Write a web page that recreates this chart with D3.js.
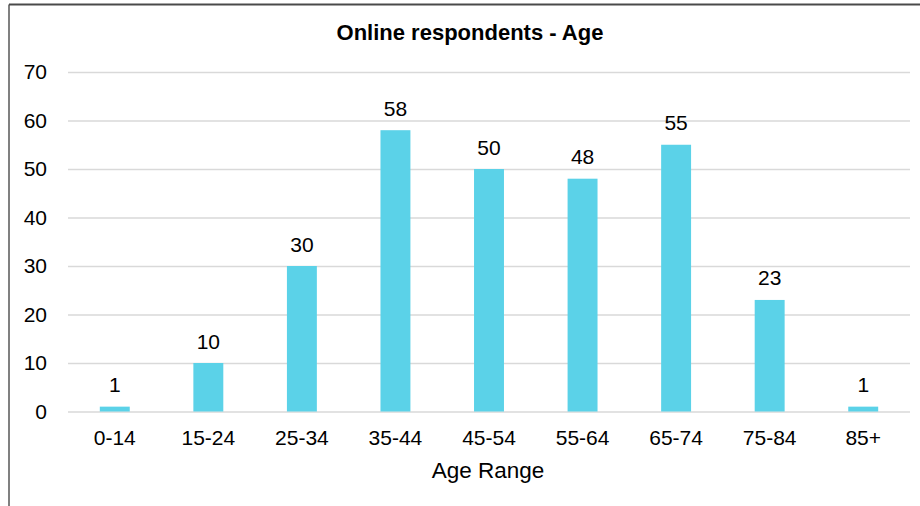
<!DOCTYPE html>
<html>
<head>
<meta charset="utf-8">
<script src="https://cdn.jsdelivr.net/npm/d3@7"></script>
<style>
  html, body { margin: 0; padding: 0; background: #fff; }
  svg { display: block; font-family: "Liberation Sans", Arial, sans-serif; }
</style>
</head>
<body>
<svg id="chart" width="920" height="506"></svg>
<script>
// Respondent counts per age band
const categories = ["0-14", "15-24", "25-34", "35-44", "45-54", "55-64", "65-74", "75-84", "85+"];
const counts = [1, 10, 30, 58, 50, 48, 55, 23, 1];
const yTicks = [0, 10, 20, 30, 40, 50, 60, 70];
const chartTitle = "Online respondents - Age";
const xAxisTitle = "Age Range";

const svg = d3.select("#chart");
const W = 920, H = 506;
const plot = { left: 68, right: 910, top: 72, bottom: 411.5 };
const barColor = "#5bd2e8";
const gridColor = "#d9d9d9";
const textColor = "#000";

// Frame of the chart area
svg.append("line")
  .attr("x1", 9).attr("x2", 9).attr("y1", 4.5).attr("y2", H)
  .attr("stroke", "#808080").attr("stroke-width", 2);
svg.append("line")
  .attr("x1", 9).attr("x2", W).attr("y1", 4.5).attr("y2", 4.5)
  .attr("stroke", "#4a4a4a").attr("stroke-width", 2);

const x = d3.scaleBand()
  .domain(categories)
  .range([plot.left, plot.right])
  .paddingInner(0.68)
  .paddingOuter(0.34);

const y = d3.scaleLinear()
  .domain([0, 70])
  .range([plot.bottom, plot.top]);

// Horizontal gridlines + value axis labels
const yAxis = d3.axisLeft(y).tickValues(yTicks).tickSize(-(plot.right - plot.left)).tickPadding(21);
const gy = svg.append("g")
  .attr("transform", `translate(${plot.left},0)`)
  .call(yAxis);
gy.select(".domain").remove();
gy.selectAll(".tick line").attr("stroke", gridColor).attr("stroke-width", 1.5);
gy.selectAll(".tick text")
  .attr("fill", textColor)
  .attr("font-size", 21)
  .attr("font-family", "'Liberation Sans', Arial, sans-serif");

// Category axis labels
const xAxis = d3.axisBottom(x).tickSize(0).tickPadding(19);
const gx = svg.append("g")
  .attr("transform", `translate(0,${plot.bottom})`)
  .call(xAxis);
gx.select(".domain").remove();
gx.selectAll(".tick text")
  .attr("fill", textColor)
  .attr("font-size", 21)
  .attr("font-family", "'Liberation Sans', Arial, sans-serif");

// Bars
svg.append("g").selectAll("rect")
  .data(counts)
  .join("rect")
  .attr("x", (d, i) => x(categories[i]))
  .attr("width", x.bandwidth())
  .attr("y", d => y(d))
  .attr("height", d => y(0) - y(d))
  .attr("fill", barColor);

// Value labels above bars
svg.append("g").selectAll("text")
  .data(counts)
  .join("text")
  .attr("x", (d, i) => x(categories[i]) + x.bandwidth() / 2)
  .attr("y", d => y(d) - 14.5)
  .attr("text-anchor", "middle")
  .attr("font-size", 21)
  .attr("fill", textColor)
  .text(d => d);

// Titles
svg.append("text")
  .attr("x", 470).attr("y", 40)
  .attr("text-anchor", "middle")
  .attr("font-size", 22)
  .attr("font-weight", "bold")
  .attr("fill", textColor)
  .text(chartTitle);

svg.append("text")
  .attr("x", (plot.left + plot.right) / 2 - 1).attr("y", 478)
  .attr("text-anchor", "middle")
  .attr("font-size", 22.5)
  .attr("fill", textColor)
  .text(xAxisTitle);
</script>
</body>
</html>
